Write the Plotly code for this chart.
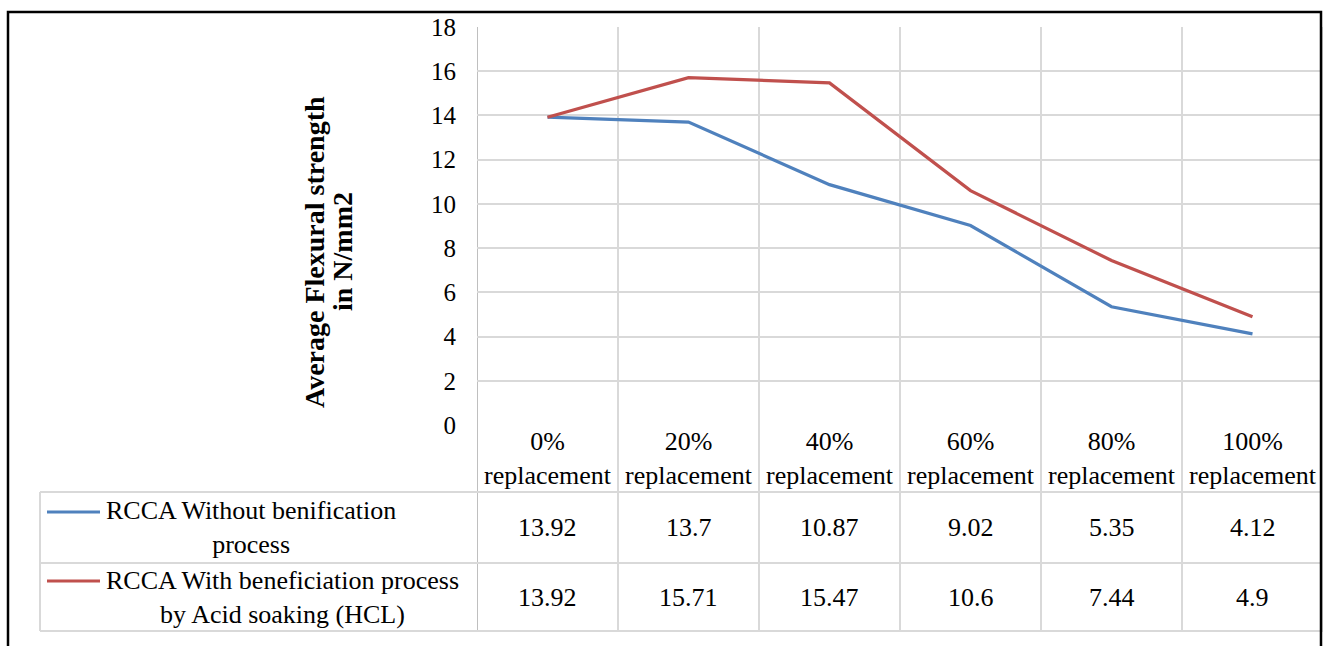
import plotly.graph_objects as go

categories = ["0% replacement", "20% replacement", "40% replacement",
              "60% replacement", "80% replacement", "100% replacement"]
series_names = ["RCCA Without benification<br>process",
                "RCCA With beneficiation process<br>by Acid soaking (HCL)"]
without_benef = [13.92, 13.7, 10.87, 9.02, 5.35, 4.12]
with_benef = [13.92, 15.71, 15.47, 10.6, 7.44, 4.9]
y_ticks = [0, 2, 4, 6, 8, 10, 12, 14, 16, 18]
y_title_1 = "Average Flexural strength"
y_title_2 = "in N/mm2"

W, H = 1326, 646
FONT = "Liberation Serif"
BLUE = "#4F81BD"
RED = "#C0504D"
GRID = "#D9D9D9"
TXT = 26


def px(x):
    return x / W


def py(y):
    return 1 - y / H


n = len(categories)
xs = list(range(n))
cat_labels = [c.replace(" ", "<br>") for c in categories]

fig = go.Figure()
for vals, color, name in [(without_benef, BLUE, series_names[0]),
                          (with_benef, RED, series_names[1])]:
    fig.add_trace(go.Scatter(x=xs, y=vals, mode="lines", name=name,
                             line=dict(color=color, width=3.2),
                             showlegend=False))

shapes = []
# vertical category boundary lines (plot grid + data table columns)
for k in range(n + 1):
    shapes.append(dict(type="line", xref="x", yref="paper",
                       x0=k - 0.5, x1=k - 0.5, y0=py(631), y1=py(27),
                       line=dict(color="#BFBFBF" if k == 0 else GRID, width=2),
                       layer="below"))
# table horizontal lines
for yy in [492, 563, 631]:
    shapes.append(dict(type="line", xref="paper", yref="paper",
                       x0=px(40), x1=px(1323), y0=py(yy), y1=py(yy),
                       line=dict(color=GRID, width=2), layer="below"))
shapes.append(dict(type="line", xref="paper", yref="paper",
                   x0=px(40), x1=px(40), y0=py(492), y1=py(631),
                   line=dict(color=GRID, width=2), layer="below"))
# legend keys
for yy, color in [(512, BLUE), (581, RED)]:
    shapes.append(dict(type="line", xref="paper", yref="paper",
                       x0=px(47), x1=px(100), y0=py(yy), y1=py(yy),
                       line=dict(color=color, width=3.2)))
# outer border
shapes.append(dict(type="rect", xref="paper", yref="paper",
                   x0=px(8), x1=px(1321), y0=-0.2, y1=py(12),
                   line=dict(color="black", width=2.5)))

annotations = []
# category header row of the data table
for i, lab in enumerate(cat_labels):
    annotations.append(dict(xref="x", yref="paper", x=xs[i], y=py(458),
                            xanchor="center", yanchor="middle", align="center",
                            text=lab, showarrow=False,
                            font=dict(family=FONT, size=TXT, color="black")))
row_y = [527.5, 597]
for name, vals, ry in [(series_names[0], without_benef, row_y[0]),
                       (series_names[1], with_benef, row_y[1])]:
    annotations.append(dict(xref="paper", yref="paper", x=px(104), y=py(ry),
                            xanchor="left", yanchor="middle", align="center",
                            text=name, showarrow=False,
                            font=dict(family=FONT, size=TXT, color="black")))
    for i, v in enumerate(vals):
        annotations.append(dict(xref="x", yref="paper", x=xs[i], y=py(ry),
                                xanchor="center", yanchor="middle",
                                text=str(v), showarrow=False,
                                font=dict(family=FONT, size=TXT, color="black")))

annotations.append(dict(xref="paper", yref="paper", x=px(314), y=py(252),
                        text="<b>%s</b>" % y_title_1, textangle=-90,
                        showarrow=False, xanchor="center", yanchor="middle",
                        font=dict(family=FONT, size=28, color="black")))
annotations.append(dict(xref="paper", yref="paper", x=px(342), y=py(252),
                        text="<b>%s</b>" % y_title_2, textangle=-90,
                        showarrow=False, xanchor="center", yanchor="middle",
                        font=dict(family=FONT, size=28, color="black")))

fig.update_layout(
    width=W, height=H, margin=dict(l=0, r=0, t=0, b=0, pad=0),
    paper_bgcolor="white", plot_bgcolor="white",
    font=dict(family=FONT, size=25, color="black"),
    shapes=shapes, annotations=annotations,
    xaxis=dict(domain=[px(477), px(1323)], range=[-0.5, n - 0.5],
               tickvals=xs, showticklabels=False, showgrid=False,
               zeroline=False, showline=False, ticks="", automargin=False),
    yaxis=dict(domain=[py(425), py(27)], range=[0, 18], tickvals=y_ticks,
               showgrid=True, gridcolor=GRID, gridwidth=2, automargin=False,
               zeroline=False, showline=False, ticks="",
               tickfont=dict(family=FONT, size=25, color="black"),
               ticklabelstandoff=20),
)

fig.write_html("out.html")
